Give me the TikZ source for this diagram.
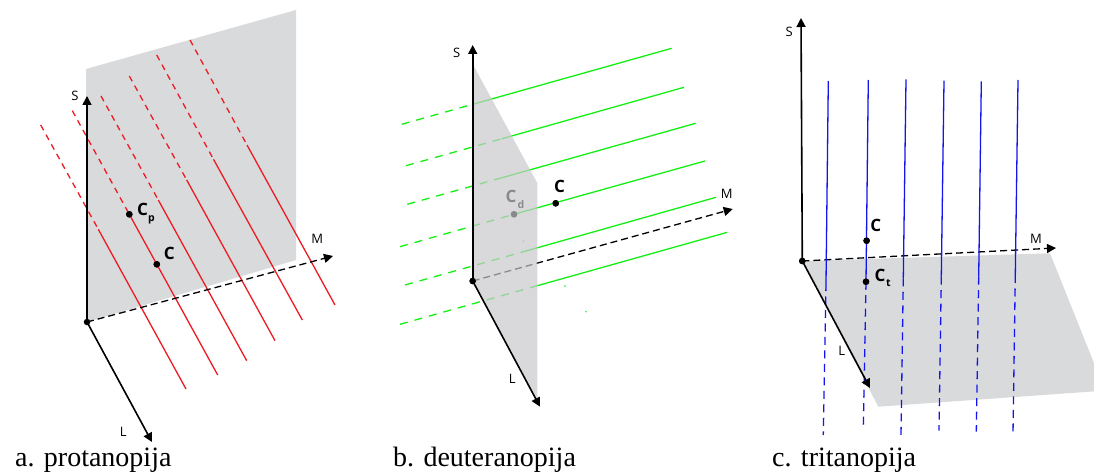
\documentclass[tikz,border=0pt]{standalone}
\usepackage{fontspec}
\setmainfont{Liberation Serif}
\newfontfamily\labfont{Open Sans}
\usetikzlibrary{arrows.meta}
\definecolor{planegray}{RGB}{217,218,220}
\definecolor{planeb}{RGB}{200,201,203}
\definecolor{lred}{RGB}{237,28,36}
\definecolor{lgreen}{RGB}{20,240,20}
\definecolor{lblue}{RGB}{20,20,240}
\begin{document}
\begin{tikzpicture}[x=1pt,y=-1pt,
  axis/.style={line width=1.6pt,-{Triangle[length=9pt,width=9pt]}},
  maxis/.style={line width=1.3pt,dash pattern=on 7pt off 4pt,-{Triangle[length=9pt,width=9pt]}},
  dot/.style={circle,fill=black,inner sep=0,minimum size=6.5pt},
  axlab/.style={font=\labfont\fontsize{13pt}{13pt}\selectfont,inner sep=0},
  clab/.style={font=\labfont\bfseries\fontsize{17pt}{17pt}\selectfont,inner sep=0,anchor=west},
  sub/.style={font=\labfont\bfseries\fontsize{10.5pt}{10.5pt}\selectfont,inner sep=0},
  capt/.style={font=\fontsize{28pt}{28pt}\selectfont,inner sep=0,anchor=base west},
  redsolid/.style={lred,line width=1.3pt},
  reddash/.style={lred,line width=1.3pt,dash pattern=on 6pt off 5pt},
  grnsolid/.style={lgreen,line width=1.3pt},
  grndash/.style={lgreen,line width=1.3pt,dash pattern=on 8pt off 7pt},
  bluesolid/.style={lblue,line width=1.3pt},
  bluedash/.style={lblue,line width=1.3pt,dash pattern=on 8pt off 5.5pt},
]
\useasboundingbox (0,0) rectangle (1094,473);
\fill[white] (0,0) rectangle (1094,473);

% ================= panel a =================
\fill[planegray] (86,69) -- (296,10) -- (296,260) -- (87,322) -- cycle;
\coordinate (aS) at (87,96);
\coordinate (aM) at (333,256);
\coordinate (aL) at (152,442);
% red lines
\coordinate (a1s) at (40.7,125);  \coordinate (a1m) at (98.3,229.3); \coordinate (a1e) at (186,389);
\coordinate (a2s) at (72.3,110.7);\coordinate (a2e) at (217.7,375);
\coordinate (a3s) at (101,96);    \coordinate (a3m) at (158.3,200);  \coordinate (a3e) at (246.7,360.7);
\coordinate (a4s) at (129.3,76);  \coordinate (a4m) at (186.7,180);  \coordinate (a4e) at (275,340.7);
\coordinate (a5s) at (156.7,55);  \coordinate (a5m) at (213.5,159.3);\coordinate (a5e) at (302.3,320);
\coordinate (a6s) at (190,40);    \coordinate (a6m) at (247,145);    \coordinate (a6e) at (335,305);
\node[dot] (aCp) at (129.3,214.3) {};
\node[dot] (aC) at (156.8,264.3) {};
\draw[reddash] (a1s) -- (a1m); \draw[redsolid] (a1m) -- (a1e);
\draw[reddash] (a2s) -- (aCp.center); \draw[redsolid] (aCp.center) -- (a2e);
\draw[reddash] (a3s) -- (a3m); \draw[redsolid] (a3m) -- (a3e);
\draw[reddash] (a4s) -- (a4m); \draw[redsolid] (a4m) -- (a4e);
\draw[reddash] (a5s) -- (a5m); \draw[redsolid] (a5m) -- (a5e);
\draw[reddash] (a6s) -- (a6m); \draw[redsolid] (a6m) -- (a6e);
\node[dot] (aO) at (87,322) {};
\draw[maxis] (aO.center) -- (aM);
\draw[axis] (aO.center) -- (aS);
\draw[axis] (aO.center) -- (aL);
\node[dot] at (aCp) {};
\node[dot] at (aC) {};
\node[axlab] (aSl) at (75,95.7) {S};
\node[axlab] (aMl) at (317.3,239) {M};
\node[axlab] (aLl) at (123.3,431.7) {L};
\node[clab] (aCpl) at (136.8,209.3) {C};
\node[sub] (aCps) at (151.5,219.5) {p};
\node[clab] (aCl) at (163.6,253.7) {C};
\node[capt] (acap) at (15,466) {a. protanopija};

% ================= panel b =================
\coordinate (bS) at (472.7,45);
\coordinate (bM) at (732.7,209);
\coordinate (bL) at (540,406.7);
\coordinate (b1s) at (401.7,124.3); \coordinate (b1m) at (472.7,104.3); \coordinate (b1e) at (671.7,48.3);
\coordinate (b2s) at (406,165.7);   \coordinate (b2m) at (501.7,138.8); \coordinate (b2e) at (684,87.3);
\coordinate (b3s) at (407.3,204.3); \coordinate (b3m) at (501.7,177.8); \coordinate (b3e) at (695.7,123.3);
\coordinate (b4s) at (400,246.7);   \coordinate (b4e) at (705,161);
\coordinate (b5s) at (405,285);     \coordinate (b5m) at (522,252.1);   \coordinate (b5e) at (716,197.3);
\coordinate (b6s) at (400,324.3);   \coordinate (b6m) at (537.3,285.7); \coordinate (b6e) at (727.3,232.3);
\node[dot] (bCd) at (514,214.3) {};
\node[dot] (bC) at (555.7,203.3) {};
\node[dot] (bO) at (472.7,281) {};
\draw[grndash] (b1s) -- (b1m); \draw[grnsolid] (b1m) -- (b1e);
\draw[grndash] (b2s) -- (b2m); \draw[grnsolid] (b2m) -- (b2e);
\draw[grndash] (b3s) -- (b3m); \draw[grnsolid] (b3m) -- (b3e);
\draw[grndash] (b4s) -- (bCd.center); \draw[grnsolid] (bCd.center) -- (b4e);
\draw[grndash] (b5s) -- (b5m); \draw[grnsolid] (b5m) -- (b5e);
\draw[grndash] (b6s) -- (b6m); \draw[grnsolid] (b6m) -- (b6e);
\fill[lgreen] (523.3,241) circle (0.8pt);
\fill[lgreen] (565,286) circle (0.8pt);
\fill[lgreen] (586,311.7) circle (0.8pt);
\draw[maxis] (bO.center) -- (bM);
\node[dot] at (bCd) {};
\node[clab] (bCdl) at (505.5,196.7) {C};
\node[sub] (bCds) at (521,205) {d};
% translucent plane over lines
\fill[planeb,fill opacity=0.69] (472.7,64) -- (537.3,183) -- (537.3,400) -- (472.7,281) -- cycle;
\draw[axis] (bO.center) -- (bS);
\draw[axis] (bO.center) -- (bL);
\node[dot] at (bO) {};
\node[dot] at (bC) {};
\node[axlab] (bSl) at (456.7,53.3) {S};
\node[axlab] (bMl) at (726.7,194) {M};
\node[axlab] (bLl) at (512.3,379.3) {L};
\node[clab] (bCl) at (553.8,186.7) {C};
\node[capt] (bcap) at (393,466) {b. deuteranopija};

% ================= panel c =================
\begin{scope}
\clip (0,0) rectangle (1094,473);
\fill[planegray] (802.3,261) -- (1050,253.3) -- (1105,390.6) -- (878.3,406.7) -- cycle;
\end{scope}
\coordinate (cS) at (801,18);
\coordinate (cM) at (1056,248);
\coordinate (cL) at (870,388);
\coordinate (c1t) at (828.3,81);  \coordinate (c1m) at (826,283);    \coordinate (c1b) at (823.3,435);
\coordinate (c2t) at (868.3,80);  \coordinate (c2b) at (863.3,428.3);
\coordinate (c3t) at (906,79.3);  \coordinate (c3m) at (903.3,278.3);\coordinate (c3b) at (901,435);
\coordinate (c4t) at (944,80.7);  \coordinate (c4m) at (941.3,276.7);\coordinate (c4b) at (939,430.7);
\coordinate (c5t) at (981.3,81.3);\coordinate (c5m) at (978.7,276.7);\coordinate (c5b) at (976.3,431.7);
\coordinate (c6t) at (1018,80);   \coordinate (c6m) at (1015.3,275); \coordinate (c6b) at (1013,433.3);
\node[dot] (cC) at (866.6,240.7) {};
\node[dot] (cCt) at (866,281.7) {};
\node[dot] (cO) at (802.3,261) {};
\draw[maxis] (cO.center) -- (cM);
\draw[bluesolid] (c1t) -- (c1m); \draw[bluedash] (c1m) -- (c1b);
\draw[bluesolid] (c2t) -- (cCt.center); \draw[bluedash] (cCt.center) -- (c2b);
\draw[bluesolid] (c3t) -- (c3m); \draw[bluedash] (c3m) -- (c3b);
\draw[bluesolid] (c4t) -- (c4m); \draw[bluedash] (c4m) -- (c4b);
\draw[bluesolid] (c5t) -- (c5m); \draw[bluedash] (c5m) -- (c5b);
\draw[bluesolid] (c6t) -- (c6m); \draw[bluedash] (c6m) -- (c6b);
\draw[axis] (cO.center) -- (cS);
\draw[axis] (cO.center) -- (cL);
\node[dot] at (cO) {};
\node[dot] at (cC) {};
\node[dot] at (cCt) {};
\node[axlab] (cSl) at (789.3,32) {S};
\node[axlab] (cMl) at (1036,239) {M};
\node[axlab] (cLl) at (841.7,351) {L};
\node[clab] (cCl) at (870.2,225) {C};
\node[clab] (cCtl) at (874.5,275) {C};
\node[sub] (cCts) at (888.5,283) {t};
\node[capt] (ccap) at (772,466) {c. tritanopija};
\end{tikzpicture}
\end{document}
